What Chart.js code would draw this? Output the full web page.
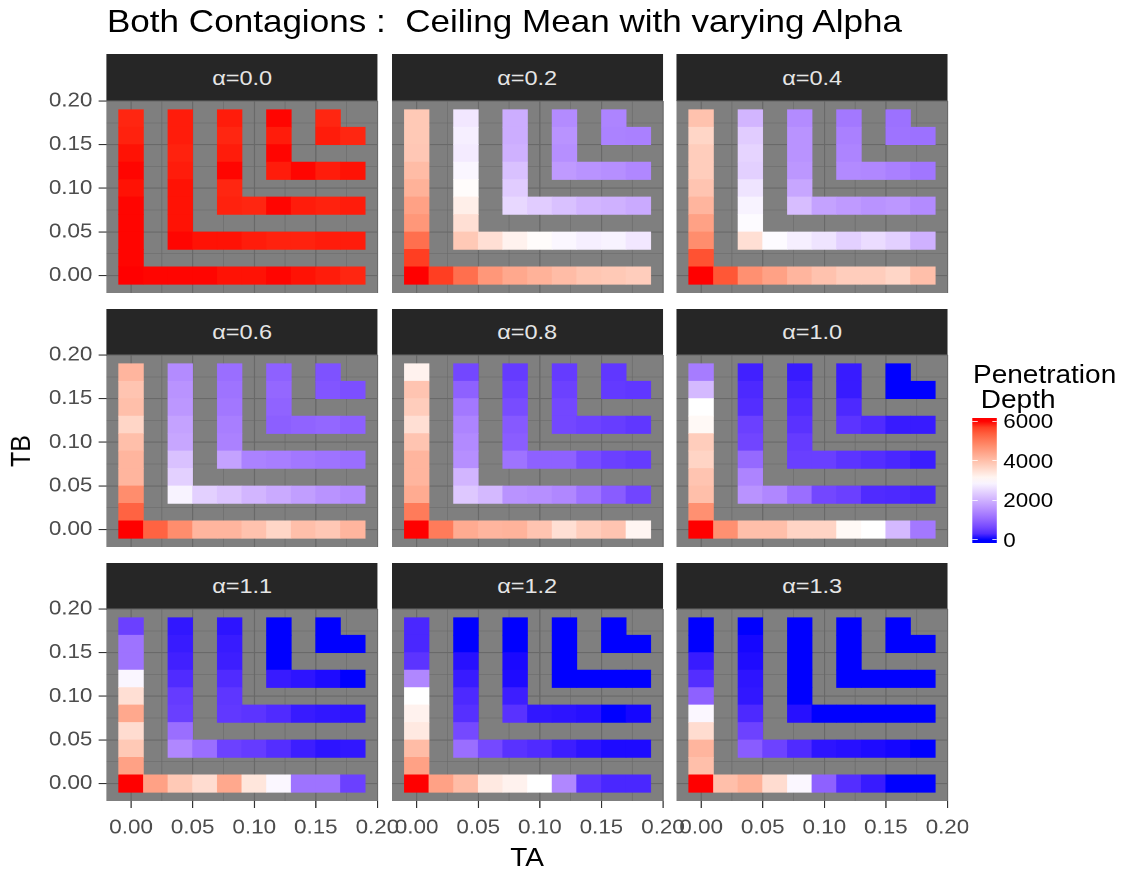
<!DOCTYPE html>
<html>
<head>
<meta charset="utf-8">
<script src="https://cdn.jsdelivr.net/npm/chart.js@4.4.1/dist/chart.umd.min.js"></script>
<style>
  html, body { margin: 0; background: #fff; overflow: hidden; width: 1125px; height: 875px; }
  #fig {
    position: absolute; left: 0; top: 0; width: 1005px; height: 875px;
    transform: scaleX(1.12); transform-origin: 0 0;
    font-family: "Liberation Sans", Arial, sans-serif;
  }
  .txt { position: absolute; white-space: pre; line-height: 1; }
  .strip {
    position: absolute; background: #262626; color: #e5e5e5; font-size: 21px;
    display: flex; align-items: center; justify-content: center;
  }
  canvas { position: absolute; }
</style>
</head>
<body>
<div id="fig"></div>
<script>
// tile centres (TA, TB), one entry per tile, same order in every panel
const ta = [0, 0, 0, 0, 0, 0, 0, 0, 0, 0, 0.02, 0.04, 0.06, 0.08, 0.10, 0.12, 0.14, 0.16, 0.18,
            0.04, 0.04, 0.04, 0.04, 0.04, 0.04, 0.04, 0.04, 0.06, 0.08, 0.10, 0.12, 0.14, 0.16, 0.18,
            0.08, 0.08, 0.08, 0.08, 0.08, 0.08, 0.10, 0.12, 0.14, 0.16, 0.18,
            0.12, 0.12, 0.12, 0.12, 0.14, 0.16, 0.18,
            0.16, 0.16, 0.18];
const tb = [0.18, 0.16, 0.14, 0.12, 0.10, 0.08, 0.06, 0.04, 0.02, 0, 0, 0, 0, 0, 0, 0, 0, 0, 0,
            0.18, 0.16, 0.14, 0.12, 0.10, 0.08, 0.06, 0.04, 0.04, 0.04, 0.04, 0.04, 0.04, 0.04, 0.04,
            0.18, 0.16, 0.14, 0.12, 0.10, 0.08, 0.08, 0.08, 0.08, 0.08, 0.08,
            0.18, 0.16, 0.14, 0.12, 0.12, 0.12, 0.12,
            0.18, 0.16, 0.16];

const alphas = [0.0, 0.2, 0.4, 0.6, 0.8, 1.0, 1.1, 1.2, 1.3];

// ceiling mean penetration depth per tile
const depth00 = [5870, 5890, 5960, 5990, 5960, 5990, 5990, 5990, 5990, 6000, 5990, 5990, 5990, 5960, 5960, 5990, 5960, 5920, 5870,
                 5920, 5920, 5890, 5920, 5960, 5960, 5960, 5990, 5960, 5960, 5920, 5890, 5890, 5920, 5920,
                 5920, 5870, 5920, 5990, 5870, 5890, 5870, 5990, 5920, 5890, 5920,
                 5990, 5920, 5990, 5920, 5990, 5920, 5960,
                 5870, 5920, 5870];
const depth02 = [3850, 3850, 3870, 4050, 4200, 4450, 4600, 5150, 5700, 6000, 5700, 5150, 4600, 4350, 4200, 4050, 3900, 3850, 3780,
                 2700, 2800, 2750, 2880, 3050, 3250, 3500, 3850, 3500, 3200, 3050, 2900, 2800, 2850, 2700,
                 1950, 1950, 2000, 2200, 2350, 2500, 2350, 2200, 2050, 2000, 1900,
                 1500, 1600, 1550, 1700, 1600, 1550, 1450,
                 1400, 1380, 1350];
const depth04 = [3950, 3650, 3780, 3780, 3920, 4150, 4450, 4750, 5500, 6000, 5450, 4700, 4450, 4150, 3950, 3780, 3780, 3650, 4000,
                 2050, 2350, 2450, 2400, 2650, 2850, 2950, 3500, 2950, 2800, 2650, 2400, 2550, 2400, 2000,
                 1500, 1600, 1600, 1650, 1850, 2150, 1800, 1700, 1600, 1650, 1500,
                 1250, 1350, 1400, 1480, 1450, 1350, 1220,
                 1150, 1180, 1150];
const depth06 = [4150, 3920, 4000, 3650, 4000, 4150, 4150, 4750, 5300, 6000, 5300, 4750, 4150, 4150, 3950, 3650, 4000, 3870, 4150,
                 1500, 1600, 1650, 1800, 1850, 2200, 2400, 2850, 2400, 2250, 2050, 1900, 1750, 1600, 1500,
                 1120, 1180, 1230, 1320, 1370, 1800, 1380, 1320, 1230, 1180, 1120,
                 950, 1030, 980, 920, 970, 1020, 930,
                 750, 800, 720];
const depth08 = [3200, 3920, 3780, 3500, 3920, 4150, 4150, 4300, 5000, 6000, 5000, 4300, 4150, 4180, 3920, 3500, 3780, 3920, 3150,
                 620, 950, 1250, 1400, 1480, 1550, 2050, 2300, 2100, 1600, 1550, 1450, 1180, 880, 600,
                 480, 580, 680, 850, 900, 1180, 950, 950, 680, 540, 480,
                 480, 550, 620, 620, 560, 500, 430,
                 430, 460, 430];
const depth10 = [1300, 2100, 3000, 3100, 3780, 3680, 3920, 4000, 4700, 6000, 4700, 4000, 4000, 3680, 3680, 3100, 3000, 2100, 1250,
                 200, 280, 330, 540, 600, 1050, 1400, 1600, 1450, 1120, 620, 540, 300, 280, 230,
                 150, 230, 300, 380, 480, 520, 520, 400, 330, 260, 170,
                 150, 150, 280, 400, 300, 150, 150,
                 0, 0, 0];
const depth11 = [540, 1180, 1180, 2880, 3500, 4350, 3550, 3850, 4450, 6000, 4450, 3850, 3550, 4350, 3400, 2900, 1180, 1180, 540,
                 120, 150, 200, 300, 480, 520, 1120, 1450, 1120, 550, 480, 330, 180, 100, 120,
                 100, 150, 180, 300, 420, 440, 400, 300, 150, 120, 100,
                 0, 0, 0, 150, 100, 50, 0,
                 0, 0, 0];
const depth12 = [260, 260, 400, 1450, 3000, 3200, 3350, 4050, 4450, 6000, 4450, 4050, 3350, 3200, 3000, 1450, 400, 260, 260,
                 0, 0, 80, 150, 280, 350, 650, 1120, 650, 370, 300, 180, 100, 50, 50,
                 0, 0, 40, 50, 180, 370, 120, 100, 80, 0, 30,
                 0, 0, 0, 0, 0, 0, 0,
                 0, 0, 0];
const depth13 = [0, 0, 150, 330, 950, 2900, 3550, 4150, 4000, 6000, 4000, 4200, 3550, 2900, 950, 330, 150, 0, 0,
                 0, 30, 50, 100, 120, 280, 560, 880, 560, 300, 100, 80, 50, 30, 0,
                 0, 0, 0, 0, 0, 80, 0, 0, 0, 0, 0,
                 0, 0, 0, 0, 0, 0, 0,
                 0, 0, 0];

const panels = [depth00, depth02, depth04, depth06, depth08, depth10, depth11, depth12, depth13];
const legendTicks = [0, 2000, 4000, 6000];
const MIDPOINT = 3000;

// ---- diverging blue / white / red fill, interpolated in CIE Lab ----
const LOW = [0, 0, 255], MID = [255, 255, 255], HIGH = [255, 0, 0];
const Xn = 0.95047, Yn = 1, Zn = 1.08883;
function toLin(c) { c /= 255; return c <= 0.04045 ? c / 12.92 : Math.pow((c + 0.055) / 1.055, 2.4); }
function fromLin(c) {
  c = c <= 0.0031308 ? 12.92 * c : 1.055 * Math.pow(c, 1 / 2.4) - 0.055;
  return Math.round(Math.min(1, Math.max(0, c)) * 255);
}
function rgbToLab([r, g, b]) {
  r = toLin(r); g = toLin(g); b = toLin(b);
  const x = (0.4124 * r + 0.3576 * g + 0.1805 * b) / Xn;
  const y = (0.2126 * r + 0.7152 * g + 0.0722 * b) / Yn;
  const z = (0.0193 * r + 0.1192 * g + 0.9505 * b) / Zn;
  const f = t => t > 0.008856 ? Math.cbrt(t) : 7.787 * t + 16 / 116;
  const fx = f(x), fy = f(y), fz = f(z);
  return [116 * fy - 16, 500 * (fx - fy), 200 * (fy - fz)];
}
function labToRgb([L, a, b]) {
  const fy = (L + 16) / 116, fx = fy + a / 500, fz = fy - b / 200;
  const inv = t => t * t * t > 0.008856 ? t * t * t : (t - 16 / 116) / 7.787;
  const x = inv(fx) * Xn, y = inv(fy) * Yn, z = inv(fz) * Zn;
  const r = 3.2406 * x - 1.5372 * y - 0.4986 * z;
  const g = -0.9689 * x + 1.8758 * y + 0.0415 * z;
  const bl = 0.0557 * x - 0.2040 * y + 1.0570 * z;
  return [fromLin(r), fromLin(g), fromLin(bl)];
}
const labLow = rgbToLab(LOW), labMid = rgbToLab(MID), labHigh = rgbToLab(HIGH);

const allDepth = [].concat(...panels);
const vMin = Math.min(...allDepth), vMax = Math.max(...allDepth);
const halfSpan = Math.max(MIDPOINT - vMin, vMax - MIDPOINT);

function fillColor(v) {
  const t = Math.min(1, Math.max(0, (v - MIDPOINT) / halfSpan / 2 + 0.5));
  const [A, B, s] = t < 0.5 ? [labLow, labMid, t / 0.5] : [labMid, labHigh, (t - 0.5) / 0.5];
  const lab = A.map((c, i) => c + (B[i] - c) * s);
  const [r, g, b] = labToRgb(lab);
  return `rgb(${r},${g},${b})`;
}

// ---- layout ----
const S = 1.12;               // horizontal stretch applied to #fig
const ux = v => v / S;
const COL_X = [106.7, 391.7, 676.7];
const ROW_Y = [100.7, 355, 609.3];
const PW = 271, PH = 192, STRIP_H = 47;
const AXW = 62, AXH = 46, PADT = 24;
const FONT = '"Liberation Sans", Arial, sans-serif';
const fig = document.getElementById('fig');

function addText(txt, x, y, css) {
  const d = document.createElement('div');
  d.className = 'txt';
  d.textContent = txt;
  d.style.left = x + 'px';
  d.style.top = y + 'px';
  Object.assign(d.style, css || {});
  fig.appendChild(d);
  return d;
}

const isMajor = v => Math.round(v * 1000) % 50 === 0;

const panelBg = {
  id: 'panelBg',
  beforeDraw(chart) {
    const { ctx, chartArea: a } = chart;
    ctx.save();
    ctx.fillStyle = '#7f7f7f';
    ctx.fillRect(a.left, a.top, a.right - a.left, a.bottom - a.top);
    ctx.restore();
  }
};

function axis(showLabels, fit, pad) {
  return {
    type: 'linear', min: -0.02, max: 0.2, offset: false,
    afterFit: fit,
    border: { display: false },
    grid: {
      offset: false,
      color: '#696969',
      lineWidth: c => (c.tick && isMajor(c.tick.value)) ? 1.1 : 0.55,
      tickLength: 7,
      tickWidth: 1.1,
      tickColor: c => (showLabels && c.tick && isMajor(c.tick.value)) ? '#333333' : 'rgba(0,0,0,0)'
    },
    ticks: {
      display: showLabels,
      stepSize: 0.025, includeBounds: false, autoSkip: false, maxRotation: 0,
      padding: pad, color: '#4d4d4d', font: { size: 20, family: FONT },
      callback: v => isMajor(v) ? v.toFixed(2) : ''
    }
  };
}

panels.forEach((depth, k) => {
  const r = Math.floor(k / 3), c = k % 3;
  const left = ux(COL_X[c]), top = ROW_Y[r], w = ux(PW);

  const strip = document.createElement('div');
  strip.className = 'strip';
  Object.assign(strip.style, { left: left + 'px', top: (top - STRIP_H + 0.5) + 'px', width: w + 'px', height: STRIP_H + 'px' });
  strip.textContent = 'α=' + alphas[k].toFixed(1);
  fig.appendChild(strip);

  const cw = Math.ceil(w + AXW + 30);
  const padR = cw - AXW - w;
  const cv = document.createElement('canvas');
  cv.width = cw;
  cv.height = PH + PADT + AXH;
  cv.style.left = (left - AXW) + 'px';
  cv.style.top = (top - PADT) + 'px';
  fig.appendChild(cv);

  new Chart(cv, {
    type: 'bar',
    data: {
      datasets: [{
        data: ta.map((x, i) => ({ x, y: [tb[i] - 0.01, tb[i] + 0.01] })),
        backgroundColor: depth.map(fillColor),
        borderWidth: 0,
        barPercentage: 1,
        categoryPercentage: 1
      }]
    },
    options: {
      responsive: false,
      animation: false,
      devicePixelRatio: 2,
      events: [],
      layout: { padding: { top: PADT, right: padR, left: 0, bottom: 0 } },
      plugins: { legend: { display: false }, tooltip: { enabled: false } },
      scales: {
        x: axis(r === 2, s => { s.height = AXH; }, 8),
        y: axis(c === 0, s => { s.width = AXW; }, 5.5)
      }
    },
    plugins: [panelBg]
  });
});

// title and axis titles
addText('Both Contagions :  Ceiling Mean with varying Alpha', ux(107), 6, { fontSize: '31.3px', color: '#000' });
addText('TA', ux(527), 845, { fontSize: '25px', color: '#000', transform: 'translateX(-50%)' });
addText('TB', ux(20), 451, { fontSize: '25px', color: '#000', transform: 'translate(-50%,-50%) rotate(-90deg)' });

// colour bar legend
const BAR_X = ux(972.3), BAR_TOP = 418, BAR_H = 125, BAR_W = ux(25), NBIN = 20;
addText('Penetration\n Depth', ux(973), 362, { fontSize: '25px', lineHeight: '25px', color: '#000' });
const stops = [];
for (let i = 0; i < NBIN; i++) {
  const v = vMin + (vMax - vMin) * i / (NBIN - 1);
  stops.push(`${fillColor(v)} ${((i + 0.5) / NBIN * 100).toFixed(2)}%`);
}
const bar = document.createElement('div');
Object.assign(bar.style, {
  position: 'absolute', left: BAR_X + 'px', top: BAR_TOP + 'px', width: BAR_W + 'px', height: BAR_H + 'px',
  background: `linear-gradient(to top, ${fillColor(vMin)} 0%, ${stops.join(', ')}, ${fillColor(vMax)} 100%)`
});
fig.appendChild(bar);
legendTicks.forEach(v => {
  const y = BAR_TOP + BAR_H - BAR_H * (0.5 + (v - vMin) / (vMax - vMin) * (NBIN - 1)) / NBIN;
  [0, BAR_W - BAR_W / 5].forEach(dx => {
    const t = document.createElement('div');
    Object.assign(t.style, { position: 'absolute', left: (BAR_X + dx) + 'px', top: (y - 0.5) + 'px', width: (BAR_W / 5) + 'px', height: '1px', background: 'rgba(255,255,255,0.8)' });
    fig.appendChild(t);
  });
  addText(String(v), ux(1003.3), y - 9.8, { fontSize: '20px', color: '#000' });
});
</script>
</body>
</html>
